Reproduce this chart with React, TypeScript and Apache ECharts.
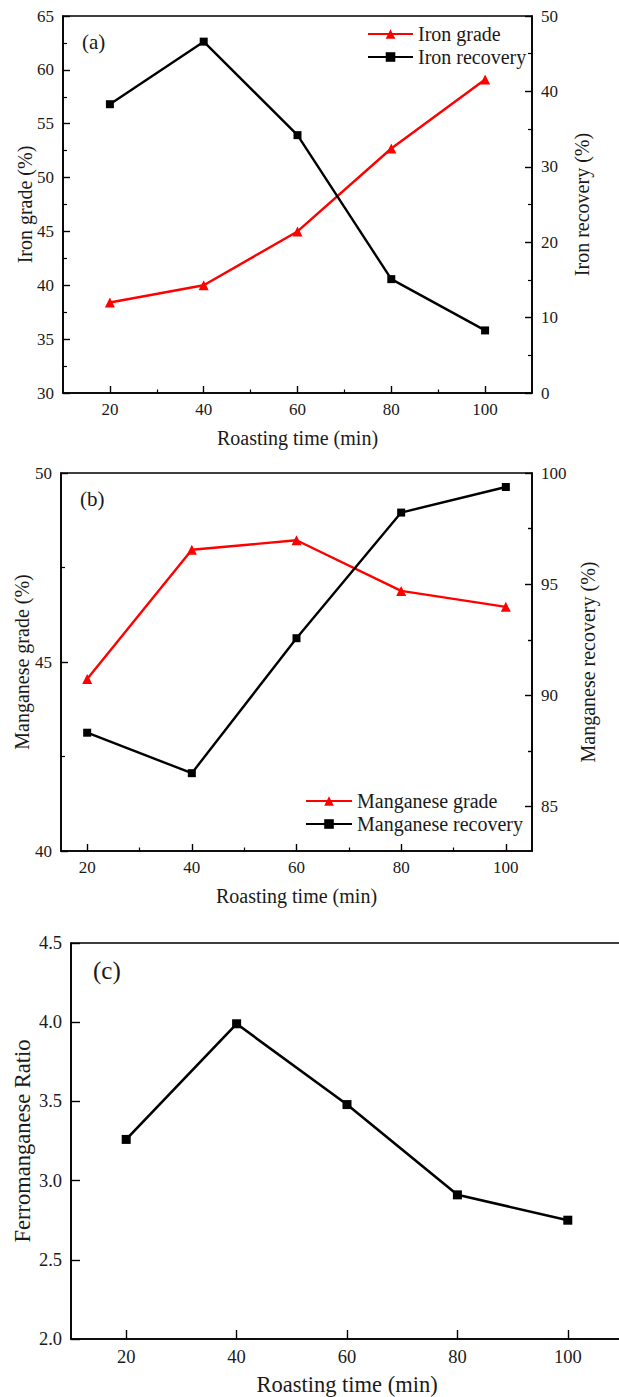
import React, { useEffect, useRef } from "react";
import * as echarts from "echarts";

// ---- data ----
const roastingTime = [20, 40, 60, 80, 100];
const ironGrade = [38.4, 40.0, 45.0, 52.7, 59.1];
const ironRecovery = [38.3, 46.6, 34.2, 15.1, 8.3];
const manganeseGrade = [44.55, 47.97, 48.22, 46.88, 46.46];
const manganeseRecovery = [88.32, 86.5, 92.57, 98.22, 99.37];
const ferroManganeseRatio = [3.26, 3.99, 3.48, 2.91, 2.75];

// ---- ticks ----
const xMajorTicks = [20, 40, 60, 80, 100];
const xMinorTicks = [30, 50, 70, 90];
const mnRecoveryTicks = [85, 90, 95, 100];
const mnRecoveryMinorTicks = [87.5, 92.5, 97.5];

const FONT = "'Liberation Serif', 'Times New Roman', serif";
const TXT = "#1a1a1a";

const pairs = (ys: number[]) => roastingTime.map((x, i) => [x, ys[i]]);

function xMain(grid: number, min: number, max: number, name: string, fs: number, nfs: number, nameGap: number, tickLen: number) {
  return {
    type: "value", gridIndex: grid, min, max, position: "bottom",
    name, nameLocation: "middle", nameGap, nameMoveOverlap: false,
    nameTextStyle: { fontFamily: FONT, fontSize: nfs, color: TXT },
    axisLine: { show: true, onZero: false, lineStyle: { color: "#000", width: 1.6 } },
    axisTick: { show: true, inside: true, length: tickLen, customValues: xMajorTicks, lineStyle: { color: "#000", width: 1.4 } },
    axisLabel: { show: true, customValues: xMajorTicks, margin: 8, fontFamily: FONT, fontSize: fs, color: TXT },
    splitLine: { show: false },
  };
}
function xMinor(grid: number, min: number, max: number) {
  return {
    type: "value", gridIndex: grid, min, max, position: "bottom",
    axisLine: { show: false },
    axisTick: { show: true, inside: true, length: 3.5, customValues: xMinorTicks, lineStyle: { color: "#000", width: 1.2 } },
    axisLabel: { show: false },
    splitLine: { show: false },
  };
}
function yAxisDef(o: any) {
  const { grid, pos, min, max, interval, name, nameGap, fs, nfs, minor, tickLen, labelValues, tickValues, showLine = true, showLabel = true, formatter } = o;
  return {
    type: "value", gridIndex: grid, position: pos, min, max, interval,
    name, nameLocation: "middle", nameGap, nameMoveOverlap: false,
    nameTextStyle: { fontFamily: FONT, fontSize: nfs, color: TXT },
    axisLine: { show: showLine, onZero: false, lineStyle: { color: "#000", width: 1.6 } },
    axisTick: { show: true, inside: true, length: tickLen, customValues: tickValues, lineStyle: { color: "#000", width: 1.4 } },
    minorTick: { show: !!minor, splitNumber: 2, length: 4, lineStyle: { color: "#000", width: 1.2 } },
    axisLabel: { show: showLabel, customValues: labelValues, margin: 9, fontFamily: FONT, fontSize: fs, color: TXT, formatter },
    splitLine: { show: false },
    minorSplitLine: { show: false },
  };
}

export default function App() {
  const ref = useRef<HTMLDivElement>(null);
  useEffect(() => {
    if (!ref.current) return;
    const chart = echarts.init(ref.current, null, { renderer: "svg" });
    const lineRed = { color: "#ff0000", width: 2.4 };
    const lineBlack = { color: "#000000", width: 2.4 };
    const gridBase = { show: true, borderColor: "#000", borderWidth: 1.6, backgroundColor: "transparent", containLabel: false, outerBoundsMode: "none" };
    const option: any = {
      animation: false,
      backgroundColor: "#ffffff",
      grid: [
        { ...gridBase, left: 63, width: 469, top: 16, height: 377 },
        { ...gridBase, left: 61, width: 471, top: 473, height: 378 },
        { ...gridBase, left: 71, width: 552, top: 943, height: 396 },
      ],
      xAxis: [
        xMain(0, 10, 110, "Roasting time (min)", 17, 20, 35, 7),
        xMinor(0, 10, 110),
        xMain(1, 15, 105, "Roasting time (min)", 17, 20, 35, 7),
        xMinor(1, 15, 105),
        xMain(2, 10, 110, "Roasting time (min)", 18.5, 22.5, 34, 9),
      ],
      yAxis: [
        yAxisDef({ grid: 0, pos: "left", min: 30, max: 65, interval: 5, name: "Iron grade (%)", nameGap: 28, fs: 17, nfs: 20, minor: true, tickLen: 7 }),
        yAxisDef({ grid: 0, pos: "right", min: 0, max: 50, interval: 10, name: "Iron recovery (%)", nameGap: 40, fs: 17, nfs: 20, minor: true, tickLen: 7 }),
        yAxisDef({ grid: 1, pos: "left", min: 40, max: 50, interval: 5, name: "Manganese grade (%)", nameGap: 29, fs: 17, nfs: 20, minor: true, tickLen: 7 }),
        yAxisDef({ grid: 1, pos: "right", min: 83, max: 100, name: "Manganese recovery (%)", nameGap: 46, fs: 17, nfs: 20, minor: false, tickLen: 7, labelValues: mnRecoveryTicks, tickValues: mnRecoveryTicks }),
        yAxisDef({ grid: 1, pos: "right", min: 83, max: 100, fs: 17, nfs: 20, minor: false, tickLen: 4, tickValues: mnRecoveryMinorTicks, showLine: false, showLabel: false }),
        yAxisDef({ grid: 2, pos: "left", min: 2.0, max: 4.5, interval: 0.5, name: "Ferromanganese Ratio", nameGap: 37, fs: 18.5, nfs: 22.5, minor: false, tickLen: 9, formatter: (v: number) => v.toFixed(1) }),
      ],
      legend: [
        {
          orient: "vertical", left: 362, top: 19, itemWidth: 45, itemHeight: 12, itemGap: 3,
          textStyle: { fontFamily: FONT, fontSize: 20, color: TXT, lineHeight: 20 },
          data: ["Iron grade", "Iron recovery"],
        },
        {
          orient: "vertical", left: 300, top: 786, itemWidth: 46, itemHeight: 12, itemGap: 3,
          textStyle: { fontFamily: FONT, fontSize: 20, color: TXT, lineHeight: 20 },
          data: ["Manganese grade", "Manganese recovery"],
        },
      ],
      graphic: [
        { type: "text", left: 82, top: 31, style: { text: "(a)", font: `21px ${FONT}`, fill: TXT } },
        { type: "text", left: 80, top: 488, style: { text: "(b)", font: `21px ${FONT}`, fill: TXT } },
        { type: "text", left: 93, top: 958, style: { text: "(c)", font: `25px ${FONT}`, fill: TXT } },
      ],
      series: [
        { name: "Iron grade", type: "line", xAxisIndex: 0, yAxisIndex: 0, data: pairs(ironGrade), symbol: "triangle", symbolSize: 10, itemStyle: { color: "#ff0000" }, lineStyle: lineRed },
        { name: "Iron recovery", type: "line", xAxisIndex: 0, yAxisIndex: 1, data: pairs(ironRecovery), symbol: "rect", symbolSize: 8, itemStyle: { color: "#000" }, lineStyle: lineBlack },
        { name: "Manganese grade", type: "line", xAxisIndex: 2, yAxisIndex: 2, data: pairs(manganeseGrade), symbol: "triangle", symbolSize: 10, itemStyle: { color: "#ff0000" }, lineStyle: lineRed },
        { name: "Manganese recovery", type: "line", xAxisIndex: 2, yAxisIndex: 3, data: pairs(manganeseRecovery), symbol: "rect", symbolSize: 8, itemStyle: { color: "#000" }, lineStyle: lineBlack },
        { name: "Ferromanganese Ratio", type: "line", xAxisIndex: 4, yAxisIndex: 5, data: pairs(ferroManganeseRatio), symbol: "rect", symbolSize: 9, itemStyle: { color: "#000" }, lineStyle: { color: "#000", width: 2.6 } },
      ],
    };
    chart.setOption(option);
    return () => chart.dispose();
  }, []);
  return <div ref={ref} style={{ position: "fixed", left: 0, top: 0, width: 619, height: 1397, overflow: "hidden" }} />;
}
